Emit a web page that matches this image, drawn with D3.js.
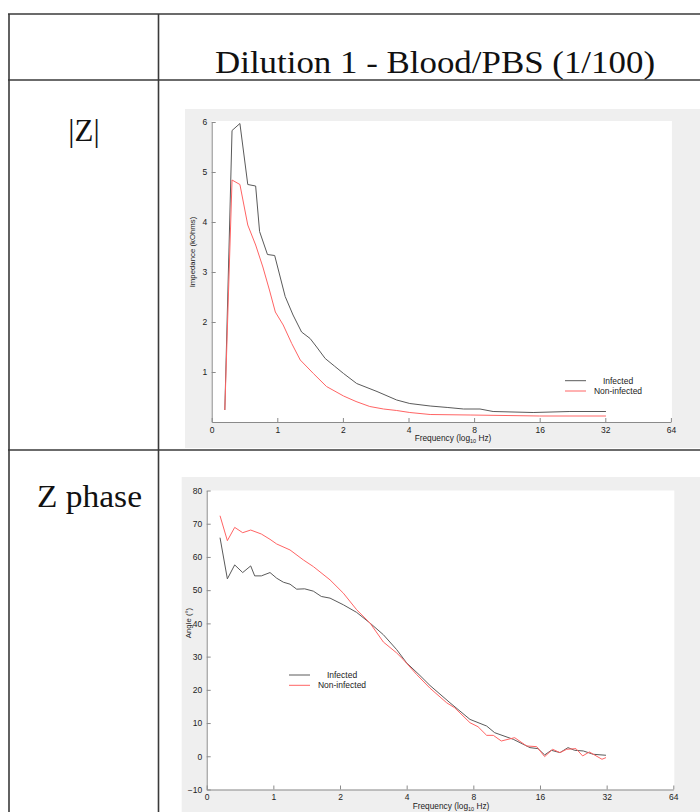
<!DOCTYPE html>
<html>
<head>
<meta charset="utf-8">
<script src="https://cdn.jsdelivr.net/npm/d3@7"></script>
<style>
    body { margin: 0; background: #fff; }
    .tick text { font-family: "Liberation Sans", Arial, sans-serif; font-size: 8.5px; fill: #222; }
    .axis-label { font-family: "Liberation Sans", Arial, sans-serif; font-size: 8.3px; fill: #222; }
    .legend-label { font-family: "Liberation Sans", Arial, sans-serif; font-size: 8.5px; fill: #222; }
    .cell-text { font-family: "Liberation Serif", "Times New Roman", serif; fill: #111; }
</style>
</head>
<body>
<div id="chart-container"></div>
<script>
// x positions are in octave steps along the axis (0,1,2,4,...,64)
const xTickLabels = ["0", "1", "2", "4", "8", "16", "32", "64"];
const seriesNames = ["Infected", "Non-infected"];

const impedanceTicks = [1, 2, 3, 4, 5, 6];
const phaseTicks = [-10, 0, 10, 20, 30, 40, 50, 60, 70, 80];

const impedanceInfected = [
    [0.20, 0.24], [0.31, 5.83], [0.43, 5.97], [0.55, 4.75], [0.67, 4.72], [0.73, 3.81],
    [0.85, 3.35], [0.96, 3.33], [1.12, 2.51], [1.24, 2.14], [1.37, 1.80], [1.50, 1.67],
    [1.60, 1.50], [1.73, 1.27], [1.87, 1.12], [2.01, 0.97], [2.21, 0.77], [2.52, 0.61],
    [2.82, 0.44], [3.02, 0.37], [3.33, 0.32], [3.60, 0.29], [3.84, 0.26], [4.09, 0.26],
    [4.29, 0.21], [4.90, 0.19], [5.46, 0.21], [6.01, 0.21]
];
const impedanceNonInfected = [
    [0.20, 0.24], [0.31, 4.84], [0.43, 4.75], [0.55, 3.94], [0.67, 3.54], [0.78, 3.10],
    [0.88, 2.64], [0.97, 2.20], [1.09, 1.94], [1.22, 1.57], [1.35, 1.24], [1.55, 0.97],
    [1.75, 0.71], [2.01, 0.52], [2.20, 0.41], [2.41, 0.31], [2.62, 0.26], [2.82, 0.23],
    [3.02, 0.19], [3.33, 0.15], [3.94, 0.14], [5.00, 0.12], [6.01, 0.12]
];

const phaseInfected = [
    [0.20, 65.8], [0.31, 53.4], [0.42, 57.6], [0.54, 55.3], [0.66, 57.3], [0.72, 54.3],
    [0.82, 54.3], [0.95, 55.3], [1.05, 53.6], [1.15, 52.4], [1.25, 51.8], [1.35, 50.3],
    [1.47, 50.4], [1.60, 49.7], [1.72, 48.1], [1.85, 47.6], [2.05, 45.6], [2.25, 43.3],
    [2.45, 40.1], [2.65, 36.6], [2.85, 32.1], [3.00, 28.1], [3.20, 24.3], [3.35, 21.3],
    [3.65, 16.1], [3.95, 11.1], [4.20, 9.1], [4.32, 7.1], [4.60, 5.1], [4.85, 2.6],
    [4.97, 2.3], [5.07, 0.4], [5.17, 1.8], [5.30, 1.1], [5.42, 2.6], [5.52, 1.8],
    [5.65, 1.6], [5.80, 0.6], [5.99, 0.3]
];
const phaseNonInfected = [
    [0.20, 72.4], [0.31, 64.9], [0.42, 68.9], [0.54, 67.3], [0.66, 68.1], [0.82, 66.9],
    [0.95, 65.3], [1.05, 63.9], [1.25, 62.1], [1.45, 59.1], [1.60, 57.1], [1.85, 53.1],
    [2.05, 49.1], [2.25, 44.1], [2.45, 40.1], [2.65, 34.4], [2.85, 31.1], [2.95, 29.1],
    [3.15, 24.6], [3.35, 20.5], [3.60, 16.1], [3.72, 14.6], [3.95, 10.1], [4.07, 8.9],
    [4.20, 6.3], [4.30, 6.3], [4.42, 4.6], [4.62, 5.6], [4.80, 3.1], [4.95, 2.9],
    [5.07, -0.1], [5.19, 2.1], [5.30, 1.1], [5.40, 2.1], [5.54, 2.3], [5.64, 0.1],
    [5.74, 1.3], [5.93, -0.9], [5.99, -0.4]
];

const lineColors = ["#5a5a5a", "#ff6464"];

const svg = d3.select("#chart-container")
    .append("svg")
    .attr("width", 700)
    .attr("height", 812);

function drawTable() {
    const grid = svg.append("g")
        .attr("stroke", "#3a3a3a")
        .attr("stroke-width", 1.6);

    grid.append("line").attr("x1", 8).attr("x2", 700).attr("y1", 14).attr("y2", 14);
    grid.append("line").attr("x1", 8).attr("x2", 700).attr("y1", 80).attr("y2", 80);
    grid.append("line").attr("x1", 8).attr("x2", 700).attr("y1", 450).attr("y2", 450);
    grid.append("line").attr("x1", 9).attr("x2", 9).attr("y1", 14).attr("y2", 812);
    grid.append("line").attr("x1", 158.5).attr("x2", 158.5).attr("y1", 14).attr("y2", 812);

    svg.append("text")
        .attr("class", "cell-text")
        .attr("x", 215)
        .attr("y", 73)
        .attr("textLength", 440)
        .attr("lengthAdjust", "spacingAndGlyphs")
        .style("font-size", "31px")
        .text("Dilution 1 - Blood/PBS (1/100)");

    svg.append("text")
        .attr("class", "cell-text")
        .attr("x", 84)
        .attr("y", 141)
        .attr("text-anchor", "middle")
        .style("font-size", "31px")
        .text("|Z|");

    svg.append("text")
        .attr("class", "cell-text")
        .attr("x", 37)
        .attr("y", 507)
        .attr("textLength", 105)
        .attr("lengthAdjust", "spacingAndGlyphs")
        .style("font-size", "31px")
        .text("Z phase");
}

function drawChart(cfg) {
    const g = svg.append("g");

    g.append("rect")
        .attr("x", cfg.bg[0])
        .attr("y", cfg.bg[1])
        .attr("width", 700 - cfg.bg[0])
        .attr("height", cfg.bg[2] - cfg.bg[1])
        .attr("fill", "#efefef");

    const xScale = d3.scaleLinear()
        .domain([0, xTickLabels.length - 1])
        .range(cfg.xRange);

    const yScale = d3.scaleLinear()
        .domain(cfg.yDomain)
        .range(cfg.yRange);

    g.append("rect")
        .attr("x", cfg.xRange[0])
        .attr("y", cfg.plotTop)
        .attr("width", cfg.xRange[1] - cfg.xRange[0] + 1)
        .attr("height", cfg.yRange[0] - cfg.plotTop)
        .attr("fill", "#fff");

    const xAxis = g.append("g")
        .attr("transform", `translate(0,${cfg.yRange[0]})`)
        .call(d3.axisBottom(xScale)
            .tickValues(d3.range(xTickLabels.length))
            .tickFormat(i => xTickLabels[i])
            .tickSizeInner(-4)
            .tickSizeOuter(0)
            .tickPadding(4.5));

    const yAxis = g.append("g")
        .attr("transform", `translate(${cfg.xRange[0]},0)`)
        .call(d3.axisLeft(yScale)
            .tickValues(cfg.yTicks)
            .tickFormat(d3.format("d"))
            .tickSizeInner(-4)
            .tickSizeOuter(0)
            .tickPadding(4.5));

    [xAxis, yAxis].forEach(a => {
        a.select(".domain").attr("stroke", "#8a8a8a");
        a.selectAll(".tick line").attr("stroke", "#8a8a8a");
    });

    const line = d3.line()
        .x(d => xScale(d[0]))
        .y(d => yScale(d[1]));

    cfg.series.forEach((s, i) => {
        g.append("path")
            .datum(s)
            .attr("fill", "none")
            .attr("stroke", lineColors[i])
            .attr("stroke-width", 1)
            .attr("stroke-linejoin", "round")
            .attr("d", line);
    });

    const xLabel = g.append("text")
        .attr("class", "axis-label")
        .attr("x", cfg.xLabelX)
        .attr("y", cfg.yRange[0] + 19)
        .attr("text-anchor", "middle");
    xLabel.append("tspan").text("Frequency (log");
    xLabel.append("tspan").attr("dy", 2).style("font-size", "5.5px").text("10");
    xLabel.append("tspan").attr("dy", -2).text(" Hz)");

    g.append("text")
        .attr("class", "axis-label")
        .attr("transform", `translate(${cfg.yLabelPos[0]},${cfg.yLabelPos[1]}) rotate(-90)`)
        .attr("text-anchor", "middle")
        .style("font-size", "7.8px")
        .text(cfg.yLabel);

    const legend = g.append("g")
        .attr("transform", `translate(${cfg.legendPos[0]},${cfg.legendPos[1]})`);
    seriesNames.forEach((name, i) => {
        legend.append("line")
            .attr("x1", 0)
            .attr("x2", 21)
            .attr("y1", i * 10.3)
            .attr("y2", i * 10.3)
            .attr("stroke", lineColors[i])
            .attr("stroke-width", 1);
        legend.append("text")
            .attr("class", "legend-label")
            .attr("x", 53)
            .attr("y", i * 10.3 + 3)
            .attr("text-anchor", "middle")
            .text(name);
    });
}

drawTable();

drawChart({
    bg: [185, 109, 448],
    xRange: [211.7, 670.9],
    yDomain: [0, 6],
    yRange: [422, 122],
    plotTop: 121,
    yTicks: impedanceTicks,
    yLabel: "Impedance (kOhms)",
    yLabelPos: [194.5, 252],
    xLabelX: 453,
    legendPos: [565, 380.7],
    series: [impedanceInfected, impedanceNonInfected]
});

drawChart({
    bg: [181.7, 477, 812],
    xRange: [206.7, 673.3],
    yDomain: [-10, 80],
    yRange: [789.5, 490.5],
    plotTop: 490.5,
    yTicks: phaseTicks,
    yLabel: "Angle (°)",
    yLabelPos: [190.5, 623],
    xLabelX: 451,
    legendPos: [289, 675],
    series: [phaseInfected, phaseNonInfected]
});
</script>
</body>
</html>
